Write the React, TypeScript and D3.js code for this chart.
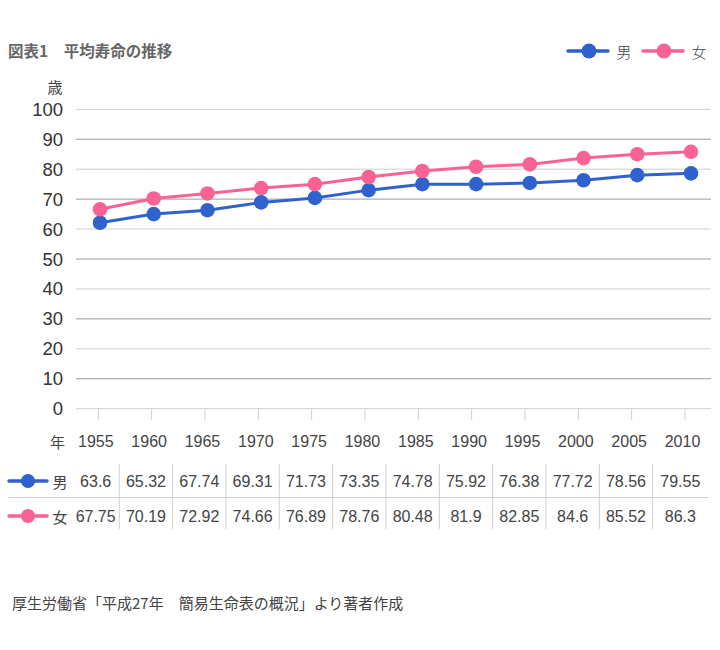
import React from "react";
import * as d3 from "d3";

const title = "図表1　平均寿命の推移";
const source = "厚生労働省「平成27年　簡易生命表の概況」より著者作成";
const years = [1955, 1960, 1965, 1970, 1975, 1980, 1985, 1990, 1995, 2000, 2005, 2010];
const seriesNames = ["男", "女"];
// values printed in the table
const maleTable = ["63.6", "65.32", "67.74", "69.31", "71.73", "73.35", "74.78", "75.92", "76.38", "77.72", "78.56", "79.55"];
const femaleTable = ["67.75", "70.19", "72.92", "74.66", "76.89", "78.76", "80.48", "81.9", "82.85", "84.6", "85.52", "86.3"];
// values as drawn in the chart
const malePlotted = [62.1, 65.0, 66.3, 68.9, 70.4, 73.0, 75.0, 75.0, 75.4, 76.3, 78.0, 78.6];
const femalePlotted = [66.6, 70.2, 71.9, 73.7, 75.0, 77.4, 79.4, 80.8, 81.6, 83.7, 85.0, 85.8];
const yTicks = [0, 10, 20, 30, 40, 50, 60, 70, 80, 90, 100];

const colors = ["#2f62cc", "#f96294"];
const FONT = "'Liberation Sans', 'Noto Sans CJK JP', sans-serif";
const JFONT = "'Noto Sans CJK JP', sans-serif";
const TEXT = "#444";

export default function App() {
  const y = d3.scaleLinear().domain([0, 100]).range([408.7, 109.3]);
  const xPts = d3.scaleLinear().domain([1955, 2010]).range([100, 691]);
  const xTick = d3.scaleLinear().domain([1955, 2010]).range([98.3, 685]);
  const line = d3
    .line<number>()
    .x((_, i) => xPts(years[i]))
    .y((d) => y(d));
  const plotted = [malePlotted, femalePlotted];
  const tables = [maleTable, femaleTable];

  // table column boundaries
  const bounds = [72, ...years.slice(0, -1).map((yr) => xTick(yr) + 21), 708];
  const rowY = [481, 516];

  return (
    <svg
      width={720}
      height={650}
      style={{ position: "absolute", left: 0, top: 0, background: "#fff" }}
      fontFamily={FONT}
    >
      <rect width={720} height={650} fill="#fff" />
      <text x={8} y={57} fontSize={15.5} fontWeight="bold" fill="#666" fontFamily={JFONT}>
        {title}
      </text>

      {/* legend */}
      {seriesNames.map((n, i) => {
        const x0 = 568 + i * 75;
        return (
          <g key={n}>
            <line x1={x0} x2={x0 + 40} y1={51} y2={51} stroke={colors[i]} strokeWidth={3.5} strokeLinecap="round" />
            <circle cx={x0 + 21} cy={51} r={7.5} fill={colors[i]} />
            <text x={x0 + 56} y={51} fontSize={15} fill={TEXT} textAnchor="middle" dominantBaseline="central" fontFamily={JFONT} fontWeight={300}>
              {n}
            </text>
          </g>
        );
      })}

      {/* y axis */}
      <text x={55} y={86} fontSize={15} fill={TEXT} textAnchor="middle" dominantBaseline="central" fontFamily={JFONT}>
        歳
      </text>
      {yTicks.map((t) => (
        <g key={t}>
          <line
            x1={76}
            x2={711}
            y1={y(t)}
            y2={y(t)}
            stroke={t % 20 === 10 ? "#9a9a9a" : "#cfcfcf"}
            strokeWidth={1}
          />
          <text x={63} y={y(t)} fontSize={18.5} fill="#333" textAnchor="end" dominantBaseline="central">
            {t}
          </text>
        </g>
      ))}

      {/* x axis */}
      {years.map((yr) => (
        <g key={yr}>
          <line x1={xTick(yr)} x2={xTick(yr)} y1={y(0)} y2={420} stroke="#cfcfcf" />
          <text x={xTick(yr) - 2.5} y={441} fontSize={16} fill={TEXT} textAnchor="middle" dominantBaseline="central">
            {yr}
          </text>
        </g>
      ))}
      <text x={57.5} y={441} fontSize={15} fill={TEXT} textAnchor="middle" dominantBaseline="central" fontFamily={JFONT}>
        年
      </text>

      {/* series */}
      {plotted.map((vals, i) => (
        <g key={i}>
          <path d={line(vals) || ""} fill="none" stroke={colors[i]} strokeWidth={3} />
          {vals.map((v, j) => (
            <circle key={j} cx={xPts(years[j])} cy={y(v)} r={7.3} fill={colors[i]} />
          ))}
        </g>
      ))}

      {/* data table */}
      <line x1={8} x2={708} y1={497.5} y2={497.5} stroke="#cfcfcf" />
      {bounds.slice(1, -1).map((b, i) => (
        <line key={i} x1={b} x2={b} y1={464} y2={529} stroke="#cfcfcf" />
      ))}
      {tables.map((vals, r) => (
        <g key={r}>
          <line x1={9} x2={47} y1={rowY[r]} y2={rowY[r]} stroke={colors[r]} strokeWidth={3.5} strokeLinecap="round" />
          <circle cx={28} cy={rowY[r]} r={7} fill={colors[r]} />
          <text x={60} y={rowY[r]} fontSize={15} fill={TEXT} textAnchor="middle" dominantBaseline="central" fontFamily={JFONT}>
            {seriesNames[r]}
          </text>
          {vals.map((v, j) => (
            <text
              key={j}
              x={(bounds[j] + bounds[j + 1]) / 2}
              y={rowY[r]}
              fontSize={16}
              fill={TEXT}
              textAnchor="middle"
              dominantBaseline="central"
            >
              {v}
            </text>
          ))}
        </g>
      ))}

      <text x={12} y={602} fontSize={15} fill={TEXT} dominantBaseline="central" fontFamily={JFONT}>
        {source}
      </text>
    </svg>
  );
}
